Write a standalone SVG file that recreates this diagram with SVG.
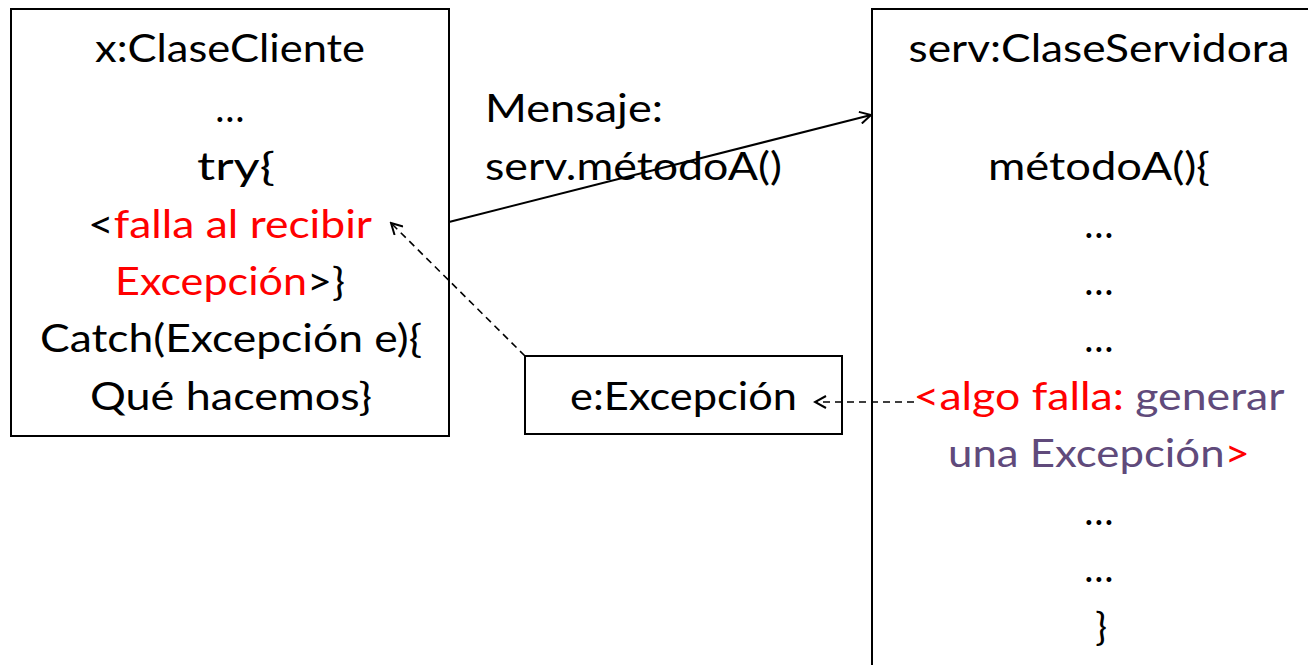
<svg xmlns="http://www.w3.org/2000/svg" width="1308" height="665" viewBox="0 0 1308 665">
  <style>
    .box { fill: #fff; stroke: #000; stroke-width: 2; }
    .t { font-family: Lato, "Open Sans", "Liberation Sans", sans-serif; font-size: 39px; fill: #000; }
    .c { text-anchor: middle; }
    .red { fill: #ff0000; }
    .purple { fill: #604a7b; }
    .link { fill: none; stroke: #000; stroke-width: 2; }
    .dash { stroke-dasharray: 7 5; stroke-width: 1.6; }
  </style>
  <defs>
    <marker id="open" markerWidth="14" markerHeight="14" refX="12" refY="7" orient="auto" markerUnits="userSpaceOnUse">
      <path d="M1,1 L12,7 L1,13" fill="none" stroke="#000" stroke-width="2"/>
    </marker>
  </defs>
  <rect width="1308" height="665" fill="#fff"/>

  <!-- client object -->
  <g id="cliente">
    <rect class="box" x="11" y="9" width="438" height="427"/>
    <text class="t c" x="230" y="62" textLength="270" lengthAdjust="spacingAndGlyphs">x:ClaseCliente</text>
    <text class="t c" x="230" y="122">…</text>
    <text class="t c" x="236" y="180" textLength="78" lengthAdjust="spacingAndGlyphs">try{</text>
    <text class="t c" x="230" y="238" textLength="284" lengthAdjust="spacingAndGlyphs">&lt;<tspan class="red">falla al recibir</tspan></text>
    <text class="t c" x="230" y="295" textLength="230" lengthAdjust="spacingAndGlyphs"><tspan class="red">Excepción</tspan>&gt;}</text>
    <text class="t c" x="231" y="352" textLength="382" lengthAdjust="spacingAndGlyphs">Catch(Excepción e){</text>
    <text class="t c" x="231" y="410" textLength="282" lengthAdjust="spacingAndGlyphs">Qué hacemos}</text>
  </g>

  <!-- server object -->
  <g id="servidora">
    <rect class="box" x="872" y="9" width="460" height="680"/>
    <text class="t c" x="1099" y="62" textLength="381" lengthAdjust="spacingAndGlyphs">serv:ClaseServidora</text>
    <text class="t c" x="1099" y="180" textLength="222" lengthAdjust="spacingAndGlyphs">métodoA(){</text>
    <text class="t c" x="1099" y="238">…</text>
    <text class="t c" x="1099" y="295">…</text>
    <text class="t c" x="1099" y="352">…</text>
    <text class="t c" x="1099" y="410" textLength="371" lengthAdjust="spacingAndGlyphs"><tspan class="red">&lt;algo falla: </tspan><tspan class="purple">generar</tspan></text>
    <text class="t c" x="1099" y="467" textLength="302" lengthAdjust="spacingAndGlyphs"><tspan class="purple">una Excepción</tspan><tspan class="red">&gt;</tspan></text>
    <text class="t c" x="1099" y="525">…</text>
    <text class="t c" x="1099" y="582">…</text>
    <text class="t c" x="1101" y="640">}</text>
  </g>

  <!-- exception object -->
  <g id="excepcion">
    <rect class="box" x="525" y="356" width="317" height="78"/>
    <text class="t" x="570" y="410" textLength="227" lengthAdjust="spacingAndGlyphs">e:Excepción</text>
  </g>

  <!-- message label -->
  <g id="mensaje">
    <text class="t" x="485" y="122" textLength="178" lengthAdjust="spacingAndGlyphs">Mensaje:</text>
    <text class="t" x="485" y="180" textLength="297" lengthAdjust="spacingAndGlyphs">serv.métodoA()</text>
  </g>

  <!-- connectors -->
  <g id="connectors">
    <line class="link" x1="449" y1="222" x2="871" y2="115" marker-end="url(#open)"/>
    <line class="link dash" x1="525" y1="356" x2="391" y2="223" marker-end="url(#open)"/>
    <line class="link dash" x1="914" y1="402" x2="815" y2="402" marker-end="url(#open)"/>
  </g>
</svg>
